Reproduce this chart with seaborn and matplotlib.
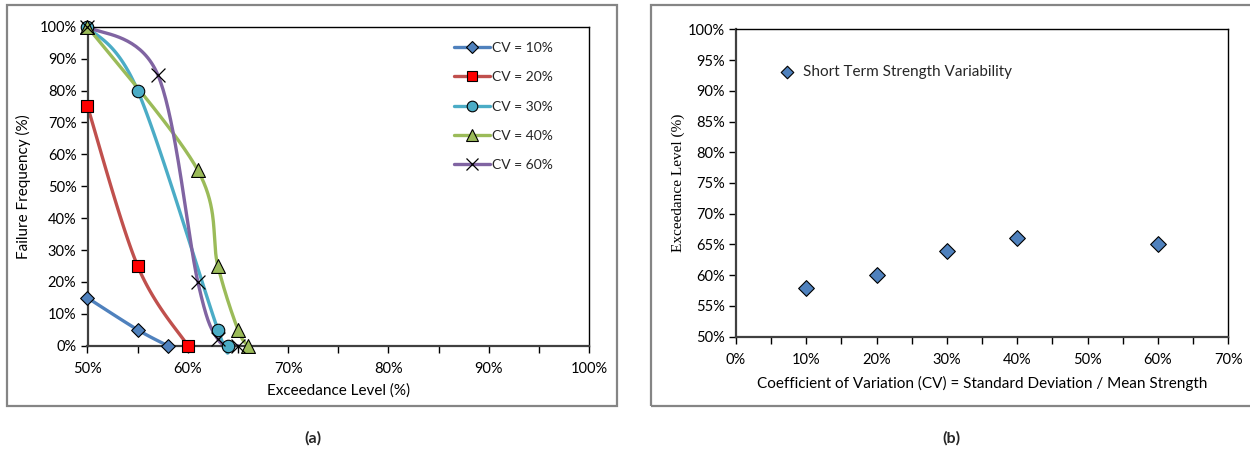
import numpy as np
import pandas as pd
import matplotlib
matplotlib.use("Agg")
import matplotlib.pyplot as plt
import seaborn as sns
from matplotlib.lines import Line2D
from matplotlib.patches import Rectangle
from matplotlib.ticker import MultipleLocator, FuncFormatter

# ---- panel (a): failure frequency vs exceedance level, one curve per CV ----
series_labels = ["CV = 10%", "CV = 20%", "CV = 30%", "CV = 40%", "CV = 60%"]
exc_cv10 = [50, 55, 58]
ff_cv10 = [15, 5, 0]
exc_cv20 = [50, 55, 60]
ff_cv20 = [75, 25, 0]
exc_cv30 = [50, 55, 63, 64]
ff_cv30 = [100, 80, 5, 0]
exc_cv40 = [50, 61, 63, 65, 66]
ff_cv40 = [100, 55, 25, 5, 0]
exc_cv60 = [50, 57, 61, 63, 65]
ff_cv60 = [100, 85, 20, 2, 0]

# ---- panel (b): exceedance level vs coefficient of variation ----
cv_values = [10, 20, 30, 40, 60]
exceedance_levels = [58, 60, 64, 66, 65]

line_colors = ["#4F81BD", "#C0504D", "#4BACC6", "#9BBB59", "#8064A2"]
marker_faces = ["#4F81BD", "#FF0000", "#4BACC6", "#9BBB59", "black"]
marker_shapes = ["D", "s", "o", "^", "x"]
marker_sizes = [7, 9, 9, 10, 10]

sns.set_theme(style="white")
plt.rcParams["font.family"] = ["Lato", "DejaVu Sans"]
plt.rcParams["axes.edgecolor"] = "black"
plt.rcParams["axes.linewidth"] = 1.0


def smooth_curve(xs, ys, n=40):
    """Excel-style smoothed line: Catmull-Rom segments as cubic Beziers."""
    p = np.column_stack([xs, ys]).astype(float)
    m = len(p)
    out = [p[0]]
    t = np.linspace(0, 1, n)[1:, None]
    for i in range(m - 1):
        p0 = p[i - 1] if i > 0 else p[i]
        p3 = p[i + 2] if i + 2 < m else p[i + 1]
        b0, b3 = p[i], p[i + 1]
        b1 = b0 + (b3 - p0) / 6.0
        b2 = b3 - (p3 - b0) / 6.0
        seg = ((1 - t) ** 3) * b0 + 3 * ((1 - t) ** 2) * t * b1 + 3 * (1 - t) * t ** 2 * b2 + t ** 3 * b3
        out.extend(seg)
    out = np.array(out)
    return out[:, 0], out[:, 1]


fig = plt.figure(figsize=(12.5, 4.54), dpi=100)

# grey outer frames around each panel
for x0, w in [(0.0056, 0.488), (0.5208, 0.49)]:
    fig.patches.append(Rectangle((x0, 0.1064), w, 0.8833, transform=fig.transFigure,
                                 fill=False, edgecolor="#858585", linewidth=1.6, zorder=0))

pct = FuncFormatter(lambda v, _: f"{v:.0f}%")
TICK_FS = 10.5
LABEL_FS = 11


def style_axes(ax):
    ax.tick_params(axis="both", which="both", direction="out", length=5, width=1,
                   color="black", labelsize=TICK_FS, labelcolor="black")
    ax.tick_params(axis="x", which="both", bottom=True, pad=7)
    ax.tick_params(axis="y", left=True, pad=3)
    for s in ax.spines.values():
        s.set_color("black")
        s.set_linewidth(1.0)
    for side in ("bottom", "left"):
        ax.spines[side].set_linewidth(1.6)
        ax.spines[side].set_color("#404040")


# ---------------- panel (a) ----------------
ax1 = fig.add_axes([0.070, 0.2385, 0.4012, 0.7027])
xs_all = [exc_cv10, exc_cv20, exc_cv30, exc_cv40, exc_cv60]
ys_all = [ff_cv10, ff_cv20, ff_cv30, ff_cv40, ff_cv60]
handles = []
for xs, ys, lab, lc, mf, mk, ms in zip(xs_all, ys_all, series_labels, line_colors,
                                       marker_faces, marker_shapes, marker_sizes):
    sx, sy = smooth_curve(xs, ys)
    ax1.plot(sx, sy, color=lc, linewidth=2.4, solid_capstyle="round", zorder=2, clip_on=False)
    df = pd.DataFrame({"x": xs, "y": ys})
    if mk == "x":
        sns.scatterplot(data=df, x="x", y="y", ax=ax1, marker="x", s=ms ** 2,
                        color="black", linewidth=0.9, zorder=3, clip_on=False, legend=False)
    else:
        sns.scatterplot(data=df, x="x", y="y", ax=ax1, marker=mk, s=ms ** 2,
                        color=mf, edgecolor="black", linewidth=0.8, zorder=3,
                        clip_on=False, legend=False)
    handles.append(Line2D([0], [0], color=lc, linewidth=2.4, marker=mk, markersize=ms * 0.85,
                          markerfacecolor=mf, markeredgecolor="black",
                          markeredgewidth=0.9 if mk == "x" else 0.8, label=lab))

ax1.set_xlim(50, 100)
ax1.set_ylim(0, 100)
ax1.xaxis.set_major_locator(MultipleLocator(10))
ax1.xaxis.set_minor_locator(MultipleLocator(5))
ax1.yaxis.set_major_locator(MultipleLocator(10))
ax1.xaxis.set_major_formatter(pct)
ax1.yaxis.set_major_formatter(pct)
style_axes(ax1)
ax1.set_xlabel("Exceedance Level (%)", fontsize=LABEL_FS, color="black", labelpad=5)
ax1.set_ylabel("Failure Frequency (%)", fontsize=LABEL_FS, color="black", labelpad=6)
ax1.legend(handles=handles, loc="upper left", bbox_to_anchor=(0.72, 0.97), frameon=False,
           fontsize=10, handlelength=2.6, handletextpad=0.15, labelspacing=1.25,
           borderaxespad=0)

# ---------------- panel (b) ----------------
ax2 = fig.add_axes([0.5886, 0.2584, 0.3941, 0.6771])
dfb = pd.DataFrame({"cv": cv_values, "exc": exceedance_levels})
sns.scatterplot(data=dfb, x="cv", y="exc", ax=ax2, marker="D", s=64, color="#4F81BD",
                edgecolor="black", linewidth=0.8, label="Short Term Strength Variability",
                zorder=3)
ax2.set_xlim(0, 70)
ax2.set_ylim(50, 100)
ax2.xaxis.set_major_locator(MultipleLocator(10))
ax2.xaxis.set_minor_locator(MultipleLocator(5))
ax2.yaxis.set_major_locator(MultipleLocator(5))
ax2.xaxis.set_major_formatter(pct)
ax2.yaxis.set_major_formatter(pct)
style_axes(ax2)
ax2.set_xlabel("Coefficient of Variation (CV) = Standard Deviation / Mean Strength",
               fontsize=LABEL_FS, color="black", labelpad=6)
ax2.set_ylabel("Exceedance Level (%)", fontsize=11, color="black", labelpad=2,
               family=["Liberation Serif", "DejaVu Serif"])
ax2.legend(loc="upper left", bbox_to_anchor=(0.06, 0.905), frameon=False, fontsize=11,
           handletextpad=0.05, borderaxespad=0, markerscale=0.8)

# panel captions
fig.text(0.2505, 0.035, "(a)", ha="center", va="center", fontsize=11.5, fontweight="bold")
fig.text(0.7608, 0.035, "(b)", ha="center", va="center", fontsize=11.5, fontweight="bold")

fig.savefig("out.png", dpi=100, facecolor="white")
